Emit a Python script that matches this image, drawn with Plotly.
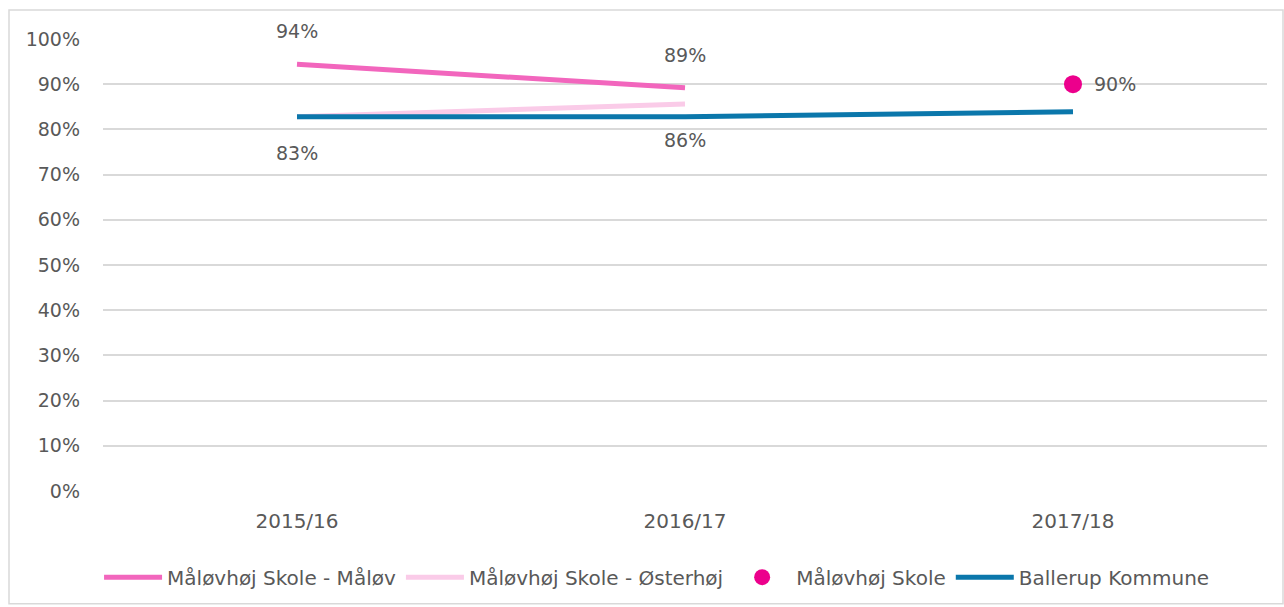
import plotly.graph_objects as go

years = ["2015/16", "2016/17", "2017/18"]
maalov = [0.944, 0.892, None]
oesterhoej = [0.828, 0.856, None]
skole = [None, None, 0.90]
ballerup = [0.828, 0.828, 0.839]

series_names = ["Måløvhøj Skole - Måløv", "Måløvhøj Skole - Østerhøj",
                "Måløvhøj Skole", "Ballerup Kommune"]

TEXT = "#595959"
FONT = "DejaVu Sans"
FS = 19

fig = go.Figure()
fig.add_trace(go.Scatter(x=years, y=maalov, mode="lines", name=series_names[0],
                         line=dict(color="#F266BD", width=5)))
fig.add_trace(go.Scatter(x=years, y=oesterhoej, mode="lines", name=series_names[1],
                         line=dict(color="#FACBE8", width=5)))
fig.add_trace(go.Scatter(x=years, y=skole, mode="markers", name=series_names[2],
                         marker=dict(color="#EC008C", size=18)))
fig.add_trace(go.Scatter(x=years, y=ballerup, mode="lines", name=series_names[3],
                         line=dict(color="#0B77AB", width=5)))

# value labels
def label(x, y, yshift=0, xshift=0, xanchor="center"):
    fig.add_annotation(x=x, y=y, text=f"{y:.0%}", showarrow=False,
                       yshift=yshift, xshift=xshift, xanchor=xanchor,
                       font=dict(family=FONT, size=FS, color=TEXT))

for x, y in zip(years, maalov):
    if y is not None:
        label(x, y, yshift=33)
for x, y in zip(years, oesterhoej):
    if y is not None:
        label(x, y, yshift=-36)
for x, y in zip(years, skole):
    if y is not None:
        label(x, y, xshift=19, xanchor="left")

W, H = 1284, 607
L, R, T, B = 103, 17, 39, 115
pw, ph = W - L - R, H - T - B

# chart frame
fig.add_shape(type="rect", xref="paper", yref="paper",
              x0=(9 - L) / pw, x1=(1283 - L) / pw,
              y0=(H - B - 605) / ph, y1=(H - B - 10) / ph,
              line=dict(color="#D9D9D9", width=1.5), layer="below")

fig.update_layout(
    width=W, height=H,
    margin=dict(l=L, r=R, t=T, b=B),
    plot_bgcolor="white", paper_bgcolor="white",
    font=dict(family=FONT, size=FS, color=TEXT),
    showlegend=True,
    legend=dict(orientation="h", x=0.476, xanchor="center", y=-0.145, yanchor="top",
                font=dict(family=FONT, size=20, color=TEXT), itemwidth=58,
                tracegroupgap=0),
    xaxis=dict(range=[-0.5, 2.5], showgrid=False, showline=False, zeroline=False,
               ticks="", ticklabelstandoff=16, tickfont=dict(size=20, color=TEXT)),
    yaxis=dict(range=[0, 1.0], dtick=0.1, tickformat=".0%", showgrid=True,
               gridcolor="#D9D9D9", gridwidth=1.5, zeroline=False, showline=False,
               ticks="", ticklabelstandoff=22, tickfont=dict(size=FS, color=TEXT)),
)

fig.write_html("out.html")
